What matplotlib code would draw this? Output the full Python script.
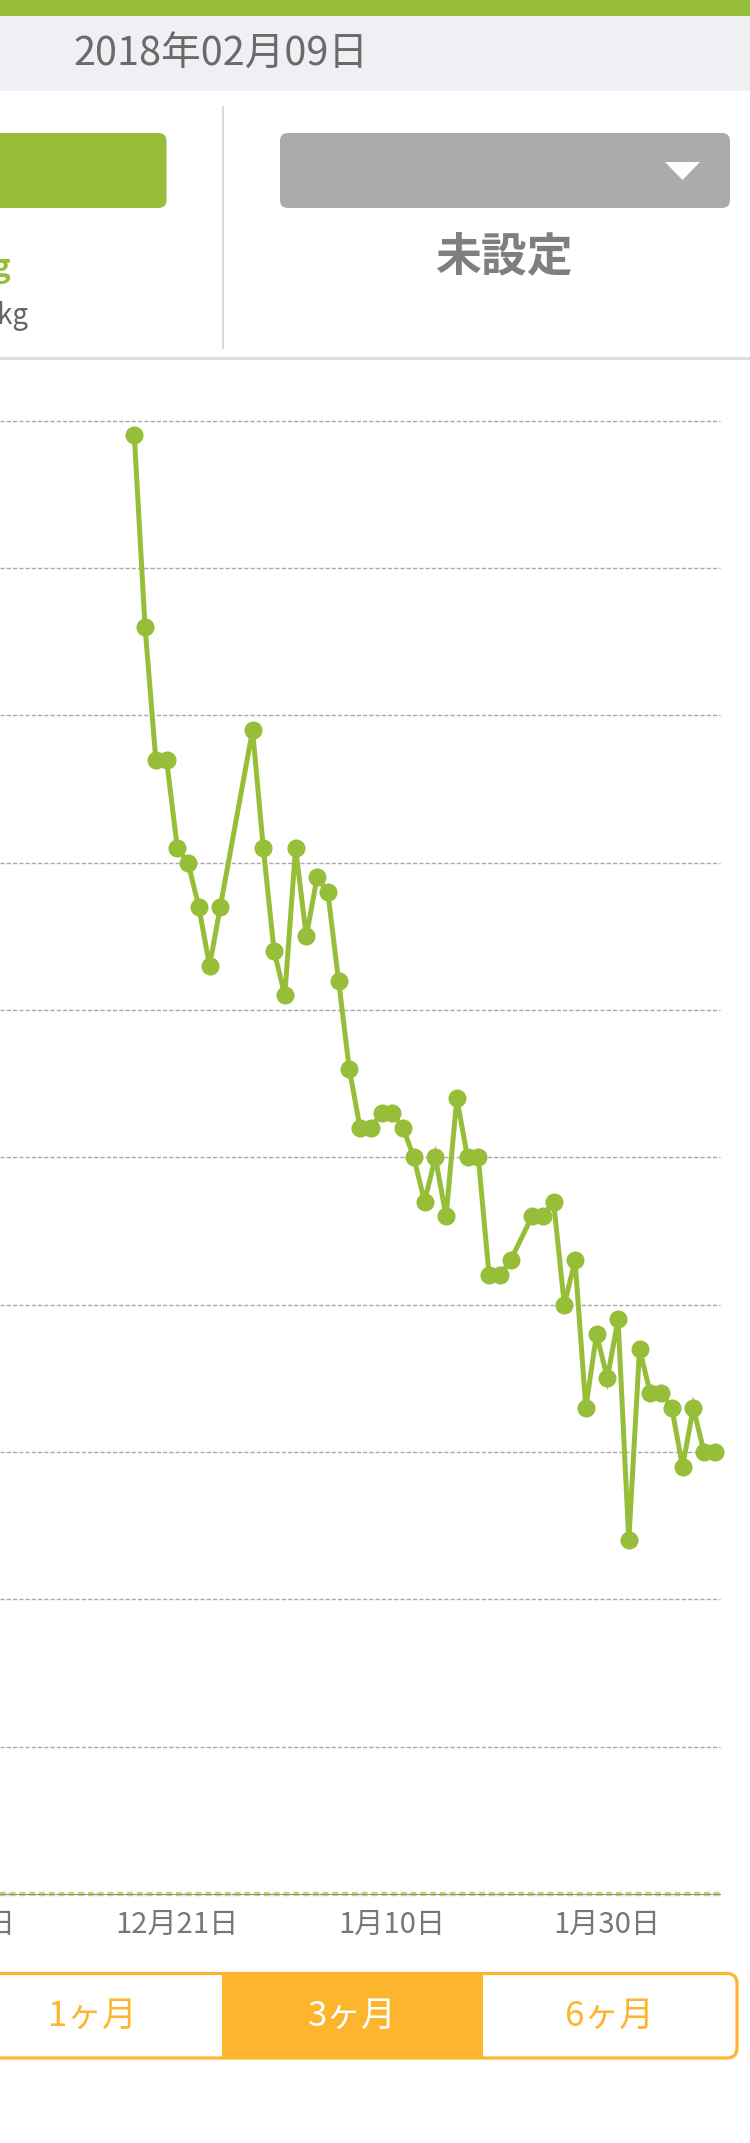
import matplotlib
matplotlib.use("Agg")
import matplotlib.pyplot as plt
import matplotlib.dates as mdates
from matplotlib.patches import FancyBboxPatch, Rectangle, Polygon
import pandas as pd

plt.rcParams['font.family'] = ['Noto Sans CJK JP', 'DejaVu Sans']

# ---------------- data ----------------
dates = [
    "2017-12-17", "2017-12-18", "2017-12-19", "2017-12-20", "2017-12-21",
    "2017-12-22", "2017-12-23", "2017-12-24", "2017-12-25",
    "2017-12-28", "2017-12-29", "2017-12-30", "2017-12-31", "2018-01-01",
    "2018-01-02", "2018-01-03", "2018-01-04", "2018-01-05", "2018-01-06",
    "2018-01-07", "2018-01-08", "2018-01-09", "2018-01-10", "2018-01-11",
    "2018-01-12", "2018-01-13", "2018-01-14", "2018-01-15", "2018-01-16",
    "2018-01-17", "2018-01-18", "2018-01-19", "2018-01-20", "2018-01-21",
    "2018-01-23", "2018-01-24", "2018-01-25", "2018-01-26", "2018-01-27",
    "2018-01-28", "2018-01-29", "2018-01-30", "2018-01-31", "2018-02-01",
    "2018-02-02", "2018-02-03", "2018-02-04", "2018-02-05", "2018-02-06",
    "2018-02-07", "2018-02-08", "2018-02-09",
]
weights = [
    69.9, 68.6, 67.7, 67.7, 67.1, 67.0, 66.7, 66.3, 66.7,
    67.9, 67.1, 66.4, 66.1, 67.1, 66.5, 66.9, 66.8, 66.2, 65.6,
    65.2, 65.2, 65.3, 65.3, 65.2, 65.0, 64.7, 65.0, 64.6, 65.4,
    65.0, 65.0, 64.2, 64.2, 64.3,
    64.6, 64.6, 64.7, 64.0, 64.3, 63.3, 63.8, 63.5, 63.9, 62.4,
    63.7, 63.4, 63.4, 63.3, 62.9, 63.3, 63.0, 63.0,
]
grid_values = [60, 61, 62, 63, 64, 65, 66, 67, 68, 69, 70]
tick_dates = ["2017-12-01", "2017-12-21", "2018-01-10", "2018-01-30"]
tick_labels = ["12月1日", "12月21日", "1月10日", "1月30日"]
header_date = "2018年02月09日"
segments = ["1ヶ月", "3ヶ月", "6ヶ月"]

# ---------------- styling ----------------
GREEN = "#97BE38"
ORANGE = "#FDB52D"
W, H = 750, 2143

fig = plt.figure(figsize=(W / 100, H / 100), dpi=100)
fig.patch.set_facecolor("white")

# overlay axes in pixel coordinates for UI
ui = fig.add_axes([0, 0, 1, 1])
ui.set_xlim(0, W)
ui.set_ylim(H, 0)
ui.axis("off")

# top bar + header
ui.add_patch(Rectangle((0, 0), W, 16, color=GREEN, lw=0))
ui.add_patch(Rectangle((0, 16), W, 75, color="#EFEFF4", lw=0))
ui.text(73, 54, header_date, fontsize=28.5, color="#6A6A6A", ha="left",
        va="center")

# left green button (cut)
ui.add_patch(FancyBboxPatch((-30, 133), 196.5, 75,
                            boxstyle="round,pad=0,rounding_size=8",
                            fc=GREEN, ec="none"))
ui.text(11, 268, "63.0kg", fontsize=22, color=GREEN, ha="right", va="center",
        fontweight="bold")
ui.text(29, 316, "-6.9kg", fontsize=20, color="#666666", ha="right", va="center")

# divider
ui.plot([223, 223], [107, 348], color="#DADADA", lw=1.5)

# right gray button
ui.add_patch(FancyBboxPatch((280, 133), 450, 75,
                            boxstyle="round,pad=0,rounding_size=8",
                            fc="#ABABAB", ec="none"))
ui.add_patch(Polygon([(665, 162), (700, 162), (682.5, 180)], closed=True,
                     fc="white", ec="none"))
ui.text(504, 257, "未設定", fontsize=33, color="#7F7F7F", ha="center",
        va="center", fontweight="bold")

# separator
ui.add_patch(Rectangle((0, 357), W, 3, color="#DDDDDD", lw=0))

# segmented control
ui.add_patch(FancyBboxPatch((-30, 1973.5), 767, 84.5,
                            boxstyle="round,pad=0,rounding_size=10",
                            fc="white", ec=ORANGE, lw=2.3))
ui.add_patch(Rectangle((221.5, 1973.5), 261.5, 84.5, fc=ORANGE, ec="none"))
seg_x = [92, 352, 609]
for sx, s in zip(seg_x, segments):
    ui.text(sx, 2016, s, fontsize=25, ha="center", va="center",
            color="white" if s == "3ヶ月" else ORANGE)

# ---------------- chart ----------------
top_px, bot_px, right_px = 420.7, 1894, 720
ax = fig.add_axes([0, (H - bot_px) / H, right_px / W, (bot_px - top_px) / H])
ax.patch.set_alpha(0)
for sp in ax.spines.values():
    sp.set_visible(False)

x = pd.to_datetime(dates)
d0 = x[0]
px_per_day = 10.75

for g in grid_values:
    ax.axhline(g, color="#AAAAAA", lw=1.0, ls=(0, (3, 1.5)), zorder=1,
               clip_on=False)
# baseline (greenish dotted)
ax.axhline(min(grid_values), color="#BCD77E", lw=3.2, ls=(0, (1.3, 0.9)),
           zorder=2, clip_on=False)
ax.axhline(min(grid_values), color="#888888", lw=0.6, zorder=3, clip_on=False)

ax.plot(x, weights, color=GREEN, lw=3.6, marker="o", markersize=13,
        markeredgewidth=0, solid_joinstyle="miter", zorder=5, clip_on=False)

ax.set_yticks([])
ax.set_xticks([])
# date labels drawn as annotations so the one left of the view still shows
for td, tl in zip(pd.to_datetime(tick_dates), tick_labels):
    ax.annotate(tl, xy=(mdates.date2num(td), 0), xycoords=("data", "axes fraction"),
                xytext=(0, -22.5), textcoords="offset points",
                ha="center", va="center", fontsize=21, color="#777777",
                annotation_clip=False)

ax.set_xlim(mdates.date2num(d0 - pd.Timedelta(days=134.3 / px_per_day)),
            mdates.date2num(d0 + pd.Timedelta(days=(right_px - 134.3) / px_per_day)))
ax.set_ylim(min(grid_values), max(grid_values))

fig.savefig("out.png", dpi=100, facecolor="white")
